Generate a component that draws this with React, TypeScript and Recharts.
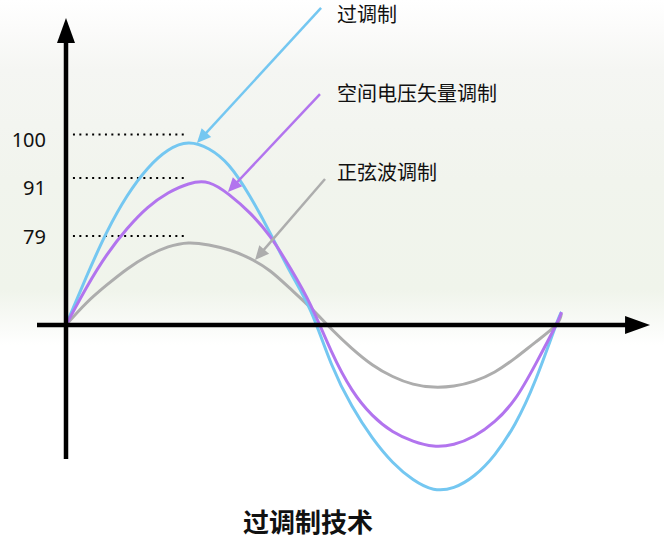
import React from 'react';
import { LineChart, Line, XAxis, YAxis, ReferenceLine, ReferenceDot } from 'recharts';

// phase angle in degrees (one full period plus the little overshoot at the end)
const phase = [0, 15, 30, 45, 60, 75, 90, 105, 120, 135, 150, 165, 180, 195, 210, 225, 240, 255, 270, 285, 300, 315, 330, 345, 360, 364];

// output voltage (over-modulation peak = 100)
const overModulation = [0, 26.5, 51, 71, 86, 96, 100, 96.7, 87.4, 70.9, 50.5, 28.8, 7.3, -21.4, -44.4, -61.9, -75.4, -84.9, -90.2, -89.2, -82.7, -71.2, -54.2, -30.1, 0, 7.1];
const svpwm = [0, 20.5, 38.5, 53, 64.5, 72.5, 77.5, 78.1, 71.5, 61.6, 48.5, 31, 10.5, -14.5, -35.5, -49.5, -58.5, -63.8, -66.5, -65.5, -61, -53, -40.5, -21.5, 0, 7.1];
const spwm = [0, 12.1, 22.0, 30.8, 37.9, 42.9, 45.1, 44.0, 41.2, 36.6, 29.7, 19.8, 9.3, -2.2, -12.8, -21.8, -28.3, -32.5, -34.1, -33.5, -30.8, -25.8, -18.2, -9.4, 0, 6.5];

const seriesNames = ['过调制', '空间电压矢量调制', '正弦波调制'];
const levelLabels = ['100', '91', '79'];
const title = '过调制技术';

const data = phase.map((p, i) => ({
  phase: p,
  over: overModulation[i],
  svpwm: svpwm[i],
  spwm: spwm[i],
}));

// layout (chart units)
const X_DOMAIN = [-48.49, 439.35];
const Y_DOMAIN = [-117.03, 178.57];
const levelLineY = [104.7, 80.8, 48.9];
const levelTextY = [101.9, 75.3, 48.9];
const calloutStart = [
  { x: 187.4, y: 174.2 },
  { x: 186.6, y: 126.9 },
  { x: 190.3, y: 80.2 },
];
const calloutTip = [
  { x: 96.2, y: 100.0 },
  { x: 119.0, y: 73.1 },
  { x: 138.9, y: 35.7 },
];
const calloutTextY = [170.9, 127.5, 84.1];

const BLUE = '#74c7f1';
const PURPLE = '#b274ee';
const GRAY = '#adadad';
const colors = [BLUE, PURPLE, GRAY];

const CJK = '"Noto Sans CJK SC", "Noto Sans", sans-serif';

const arrow = (color: string, width: number, len: number, half: number) => (props: any) => {
  const { x1, y1, x2, y2 } = props;
  const dx = x2 - x1;
  const dy = y2 - y1;
  const d = Math.sqrt(dx * dx + dy * dy) || 1;
  const ux = dx / d;
  const uy = dy / d;
  const bx = x2 - ux * len;
  const by = y2 - uy * len;
  const pts = `${x2},${y2} ${bx - uy * half},${by + ux * half} ${bx + uy * half},${by - ux * half}`;
  return (
    <g>
      <line x1={x1} y1={y1} x2={bx + ux * 1} y2={by + uy * 1} stroke={color} strokeWidth={width} />
      <polygon points={pts} fill={color} />
    </g>
  );
};

const textAt = (label: string, opts: { size: number; anchor?: string; weight?: string | number; family?: string }) =>
  (props: any) => (
    <text
      x={props.cx}
      y={props.cy}
      fontSize={opts.size}
      textAnchor={opts.anchor || 'start'}
      dominantBaseline="central"
      fontFamily={opts.family || CJK}
      fontWeight={opts.weight || 'normal'}
      fill="#111"
    >
      {label}
    </text>
  );

export default function App() {
  return (
    <div
      style={{
        position: 'absolute',
        left: 0,
        top: 0,
        width: 664,
        height: 538,
        background:
          'linear-gradient(180deg, #ffffff 0px, #fbfbfa 30px, #f5f6f3 70px, #f1f4ed 180px, #f0f4eb 290px, #fbfcfa 332px, #ffffff 345px, #ffffff 100%)',
      }}
    >
      <LineChart width={664} height={538} data={data} margin={{ top: 0, right: 0, bottom: 0, left: 0 }}>
        <XAxis dataKey="phase" type="number" domain={X_DOMAIN} allowDataOverflow hide />
        <YAxis type="number" domain={Y_DOMAIN} allowDataOverflow hide />

        {levelLineY.map((y, i) => (
          <ReferenceLine
            key={`lvl-${i}`}
            segment={[{ x: 5.1, y }, { x: 89.6, y }]}
            stroke="#000"
            strokeWidth={2}
            strokeDasharray="2 4.4"
            ifOverflow="visible"
          />
        ))}
        {levelLabels.map((t, i) => (
          <ReferenceDot
            key={`lvlt-${i}`}
            x={-14.7}
            y={levelTextY[i]}
            r={0}
            ifOverflow="visible"
            shape={textAt(t, { size: 20, anchor: 'end', family: '"Noto Sans", sans-serif' })}
          />
        ))}

        <Line type="natural" dataKey="spwm" stroke={GRAY} strokeWidth={3} dot={false} activeDot={false} isAnimationActive={false} />
        <Line type="natural" dataKey="over" stroke={BLUE} strokeWidth={3} dot={false} activeDot={false} isAnimationActive={false} />
        <Line type="natural" dataKey="svpwm" stroke={PURPLE} strokeWidth={3} dot={false} activeDot={false} isAnimationActive={false} />

        {/* axes with arrow heads */}
        <ReferenceLine
          segment={[{ x: 0, y: -73.6 }, { x: 0, y: 168.7 }]}
          ifOverflow="visible"
          shape={arrow('#000', 4.5, 25, 9)}
        />
        <ReferenceLine
          segment={[{ x: -21.3, y: 0 }, { x: 429.1, y: 0 }]}
          ifOverflow="visible"
          shape={arrow('#000', 4.5, 25, 9)}
        />

        {calloutStart.map((s, i) => (
          <ReferenceLine
            key={`co-${i}`}
            segment={[s, calloutTip[i]]}
            ifOverflow="visible"
            shape={arrow(colors[i], 2.5, 14, 6.5)}
          />
        ))}
        {seriesNames.map((n, i) => (
          <ReferenceDot
            key={`con-${i}`}
            x={199.1}
            y={calloutTextY[i]}
            r={0}
            ifOverflow="visible"
            shape={textAt(n, { size: 20 })}
          />
        ))}

        <ReferenceDot
          x={177.8}
          y={-107.4}
          r={0}
          ifOverflow="visible"
          shape={textAt(title, { size: 26, anchor: 'middle', weight: 'bold' })}
        />
      </LineChart>
    </div>
  );
}
